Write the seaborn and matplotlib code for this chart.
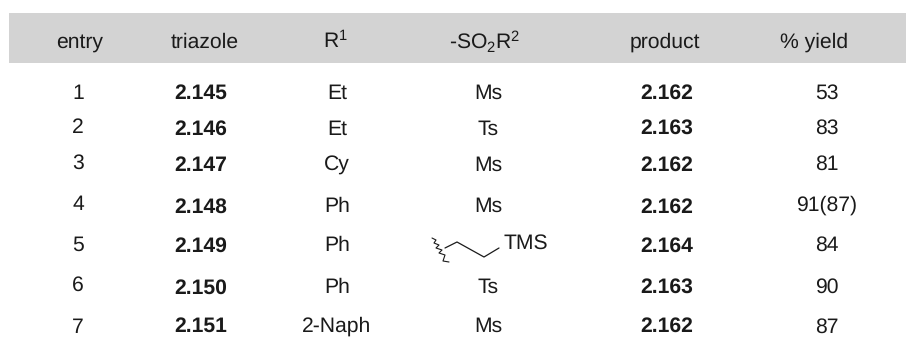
import matplotlib
matplotlib.use("Agg")
import matplotlib.pyplot as plt
import seaborn as sns

entries = ['1', '2', '3', '4', '5', '6', '7']
triazoles = ['2.145', '2.146', '2.147', '2.148', '2.149', '2.150', '2.151']
r1 = ['Et', 'Et', 'Cy', 'Ph', 'Ph', 'Ph', '2-Naph']
so2r2 = ['Ms', 'Ts', 'Ms', 'Ms', 'TMS', 'Ts', 'Ms']
products = ['2.162', '2.163', '2.162', '2.162', '2.164', '2.163', '2.162']
yields = ['53', '83', '81', '91(87)', '84', '90', '87']
headers = ['entry', 'triazole', 'R$^{1}$', '-SO$_{2}$R$^{2}$', 'product', '% yield']

# layout in image pixels, baselines differ a bit per column in the original
header_x = [80, 205, 335, 485, 665, 814]
header_base = 48
col_x = [78, 201, 337, 488, 667, 827]
col_base = [
    [99, 133, 169, 210, 251, 291, 333],
    [99, 135, 171, 213, 252, 294, 332],
    [99, 135, 171, 212, 251, 293, 332],
    [99, 135, 171, 212, 249, 293, 332],
    [99, 134, 171, 213, 252, 293, 332],
    [99, 134, 170, 211, 251, 293, 333],
]
tms_x = 526
chain_x = [445, 457, 484, 499]
chain_y = [248, 242, 257, 248]
wiggle_x = [432, 436, 434, 439, 436, 442, 439, 445, 443, 449]
wiggle_y = [238, 240, 243, 245, 248, 250, 253, 255, 261, 262]

sns.set_theme(style='white')
plt.rcParams['font.family'] = ['Liberation Sans', 'DejaVu Sans']
plt.rcParams['mathtext.default'] = 'regular'
plt.rcParams['text.hinting'] = 'no_hinting'

ink = '#1a1a1a'
size = 15.2

fig, ax = plt.subplots(figsize=(9.06, 3.47), dpi=100)
fig.subplots_adjust(0, 0, 1, 1)
ax.set_xlim(0, 906)
ax.set_ylim(347, 0)
ax.axis('off')

ax.fill_between([9, 906], 13, 62.5, color='#d3d3d3', lw=0)

for x, h in zip(header_x, headers):
    ax.text(x, header_base, h, ha='center', va='baseline', fontsize=size, color=ink)

columns = [entries, triazoles, r1, so2r2, products, yields]
for c, col in enumerate(columns):
    for val, base in zip(col, col_base[c]):
        x = tms_x if val == 'TMS' else col_x[c]
        ax.text(x, base, val, ha='center', va='baseline', fontsize=size, color=ink,
                fontweight='bold' if c in (1, 4) else 'normal')

ax.plot(chain_x, chain_y, color=ink, lw=0.9)
ax.plot(wiggle_x, wiggle_y, color=ink, lw=0.8)

plt.savefig('out.png', dpi=100)
